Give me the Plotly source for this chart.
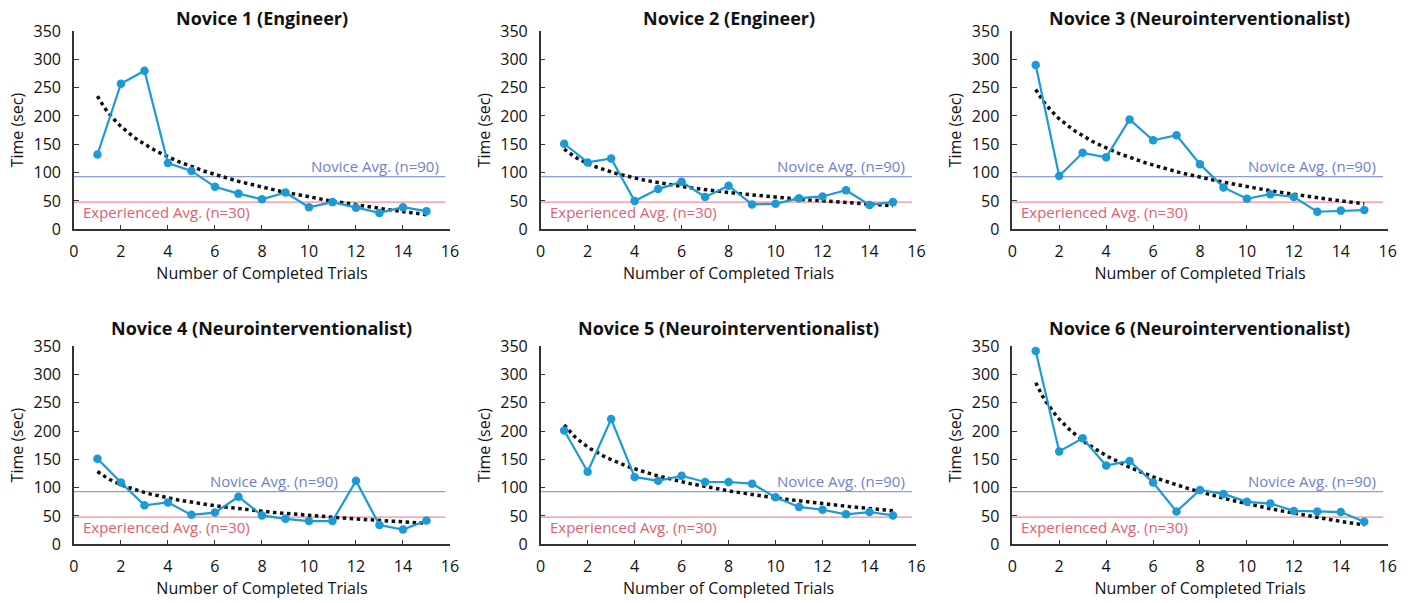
import numpy as np
import plotly.graph_objects as go

trials = list(range(1, 16))
titles = ["Novice 1 (Engineer)", "Novice 2 (Engineer)", "Novice 3 (Neurointerventionalist)",
          "Novice 4 (Neurointerventionalist)", "Novice 5 (Neurointerventionalist)",
          "Novice 6 (Neurointerventionalist)"]
novice1 = [132, 257, 280, 117, 103, 75, 63, 53, 65, 39, 48, 38, 29, 39, 32]
novice2 = [151, 118, 125, 50, 71, 84, 57, 77, 44, 45, 55, 58, 69, 43, 48]
novice3 = [290, 94, 135, 127, 194, 157, 166, 115, 74, 54, 62, 57, 31, 33, 34]
novice4 = [151, 109, 69, 74, 52, 56, 84, 51, 45, 41, 41, 112, 34, 26, 42]
novice5 = [201, 128, 221, 119, 112, 121, 110, 110, 107, 83, 66, 61, 53, 57, 51]
novice6 = [341, 164, 187, 139, 147, 109, 58, 96, 89, 75, 72, 59, 58, 57, 40]
series = [novice1, novice2, novice3, novice4, novice5, novice6]
novice_avg = 93
experienced_avg = 48
novice_label = "Novice Avg. (n=90)"
exp_label = "Experienced Avg. (n=30)"
x_ticks = [0, 2, 4, 6, 8, 10, 12, 14, 16]
y_ticks = [0, 50, 100, 150, 200, 250, 300, 350]

FONT = "Open Sans"
BLUE = "#1c9ad6"
NOV_LINE = "#8f9cdc"
NOV_TEXT = "#7080cc"
EXP_LINE = "#ee8c96"
EXP_TEXT = "#e0606e"
AXIS = "#333333"

x_domains = [[0.0524, 0.3189], [0.3832, 0.6495], [0.7174, 0.9835]]
y_domains = [[0.6197, 0.9486], [0.0973, 0.4262]]
title_y = [0.9701, 0.4556]
nov_label_x = [15.6, 15.6, 15.6, 11.3, 15.6, 15.6]

fig = go.Figure()
layout = dict(
    width=1411, height=603, margin=dict(l=0, r=0, t=0, b=0, autoexpand=False),
    paper_bgcolor="white", plot_bgcolor="white", showlegend=False,
    font=dict(family=FONT, size=15, color="#111111"),
)
shapes = []
annotations = []
xt = np.linspace(1, 15, 100)
for i, vals in enumerate(series):
    r, c = divmod(i, 3)
    n = i + 1
    xa = "x" if n == 1 else f"x{n}"
    ya = "y" if n == 1 else f"y{n}"
    # logarithmic trendline fitted to the data
    b, a = np.polyfit(np.log(trials), vals, 1)
    fig.add_trace(go.Scatter(x=xt, y=a + b * np.log(xt), mode="lines",
                             line=dict(color="#111111", width=3.5, dash="dot"),
                             xaxis=xa, yaxis=ya, hoverinfo="skip"))
    fig.add_trace(go.Scatter(x=trials, y=vals, mode="lines+markers",
                             line=dict(color=BLUE, width=2.2),
                             marker=dict(color=BLUE, size=8.5),
                             xaxis=xa, yaxis=ya))
    layout[f"xaxis{'' if n == 1 else n}"] = dict(
        domain=x_domains[c], anchor=ya, range=[0, 16], tickvals=x_ticks,
        ticks="inside", ticklen=5, tickcolor=AXIS, showline=True, linecolor=AXIS,
        linewidth=1.5, showgrid=False, zeroline=False, automargin=False,
        ticklabelstandoff=7,
        tickfont=dict(size=16, family=FONT, color="#111111"),
        title=dict(text="Number of Completed Trials", font=dict(size=16, family=FONT), standoff=6),
    )
    layout[f"yaxis{'' if n == 1 else n}"] = dict(
        domain=y_domains[r], anchor=xa, range=[0, 350], tickvals=y_ticks,
        ticks="inside", ticklen=5, tickcolor=AXIS, showline=True, linecolor=AXIS,
        linewidth=1.5, showgrid=False, zeroline=False, automargin=False,
        ticklabelstandoff=8,
        tickfont=dict(size=16, family=FONT, color="#111111"),
        title=dict(text="Time (sec)", font=dict(size=16, family=FONT), standoff=6),
    )
    shapes.append(dict(type="line", xref=xa, yref=ya, x0=0, x1=15.8, y0=novice_avg, y1=novice_avg,
                       line=dict(color=NOV_LINE, width=1.3), layer="below"))
    shapes.append(dict(type="line", xref=xa, yref=ya, x0=0, x1=15.8, y0=experienced_avg, y1=experienced_avg,
                       line=dict(color=EXP_LINE, width=1.3), layer="below"))
    annotations.append(dict(text=novice_label, xref=xa, yref=ya, x=nov_label_x[i], y=novice_avg,
                            xanchor="right", yanchor="bottom", showarrow=False,
                            font=dict(size=15, family=FONT, color=NOV_TEXT), yshift=-1))
    annotations.append(dict(text=exp_label, xref=xa, yref=ya, x=0.3, y=experienced_avg,
                            xanchor="left", yanchor="top", showarrow=False,
                            font=dict(size=15, family=FONT, color=EXP_TEXT), yshift=2))
    annotations.append(dict(text=f"<b>{titles[i]}</b>", xref="paper", yref="paper",
                            x=(x_domains[c][0] + x_domains[c][1]) / 2, y=title_y[r],
                            xanchor="center", yanchor="middle", showarrow=False,
                            font=dict(size=18, family=FONT, color="#111111")))
layout["shapes"] = shapes
layout["annotations"] = annotations
fig.update_layout(**layout)
fig.write_html("out.html")
